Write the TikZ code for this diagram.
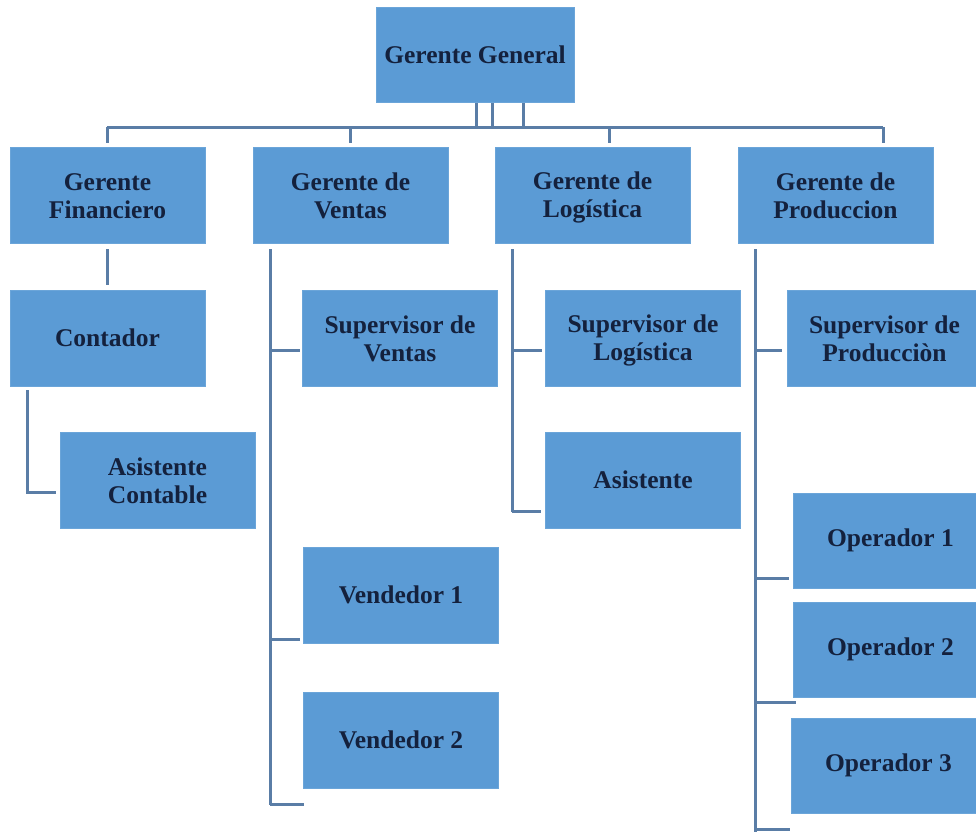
\documentclass[tikz,border=0pt]{standalone}
\usepackage{fontspec}
\setmainfont{Liberation Serif}
\definecolor{boxblue}{HTML}{5B9BD5}
\definecolor{linkblue}{HTML}{5A7DA6}
\definecolor{txtnavy}{HTML}{14213D}
\newcommand{\topst}{\rule{0pt}{23.5pt}}
\newcommand{\botst}{\rule[-4.5pt]{0pt}{4.5pt}}
\begin{document}
\begin{tikzpicture}[x=1pt,y=-1pt,
  box/.style={rectangle,fill=boxblue,draw=boxblue!90!white,line width=0.6pt,minimum width=195pt,minimum height=96pt,
    inner sep=0pt,align=center,text=txtnavy,font=\fontsize{25.5}{28}\selectfont\bfseries},
  link/.style={draw=linkblue,line width=3pt}]
\useasboundingbox (0,0) rectangle (976,831);
\clip (0,0) rectangle (976,831);
\fill[white] (0,0) rectangle (976,831);
% nodes
\node[box,minimum width=198pt,minimum height=95pt] (gg) at (475,55) {Gerente General};
\node[box] (gf) at (107.5,195) {\topst Gerente\\Financiero\botst};
\node[box] (gv) at (350.5,195) {\topst Gerente de\\Ventas\botst};
\node[box] (gl) at (592.5,195) {\topst Gerente de\\Logística\botst};
\node[box] (gp) at (835.5,195) {\topst Gerente de\\Produccion\botst};
\node[box] (cont) at (107.5,338) {Contador};
\node[box] (ac) at (157.5,480) {\topst Asistente\\Contable\botst};
\node[box] (sv) at (400,338) {\topst Supervisor de\\Ventas\botst};
\node[box] (v1) at (401,595) {Vendedor 1};
\node[box] (v2) at (401,740) {Vendedor 2};
\node[box] (sl) at (643,338) {\topst Supervisor de\\Logística\botst};
\node[box] (as) at (643,480) {Asistente};
\node[box] (sp) at (884.5,338) {\topst Supervisor de\\Producciòn\botst};
\node[box,minimum height=95pt] (o1) at (890.5,540.5) {Operador 1};
\node[box,minimum height=95pt] (o2) at (890.5,649.5) {Operador 2};
\node[box,minimum height=95pt] (o3) at (888.5,765.5) {Operador 3};
% top bus
\coordinate (busL) at (107,127);
\coordinate (busR) at (883,127);
\draw[link] (busL) -- (busR);
\draw[link] (gg.south -| 476,0) -- (476,127);
\draw[link] (gg.south -| 492,0) -- (492,127);
\draw[link] (gg.south -| 523,0) -- (523,127);
\draw[link] (busL) -- (107,143);
\draw[link] (350,127) -- (350,143);
\draw[link] (609,127) -- (609,143);
\draw[link] (busR) -- (883,143);
% financiero
\draw[link] (107,249) -- (107,285);
\draw[link] (27,390) -- (27,492) -- (56,492);
% ventas
\draw[link] (270,249) -- (270,805);
\draw[link] (270,350) -- (300,350);
\draw[link] (270,639) -- (300,639);
\draw[link] (270,804) -- (304,804);
% logistica
\draw[link] (512,249) -- (512,512);
\draw[link] (512,350) -- (542,350);
\draw[link] (512,511) -- (541,511);
% produccion
\draw[link] (755,249) -- (755,833);
\draw[link] (755,350) -- (782,350);
\draw[link] (755,578) -- (789,578);
\draw[link] (755,702) -- (796,702);
\draw[link] (755,829.5) -- (790,829.5);
\end{tikzpicture}
\end{document}
